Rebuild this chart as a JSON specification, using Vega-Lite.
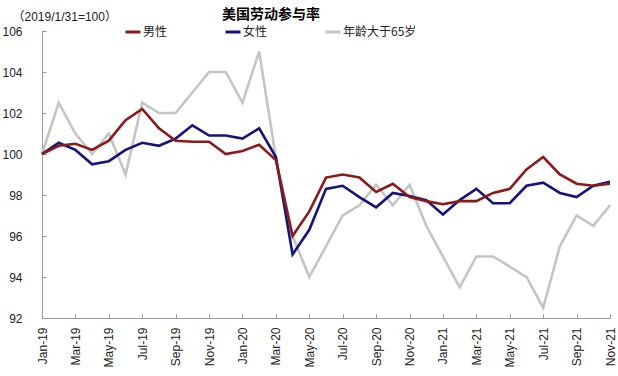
{
  "$schema": "https://vega.github.io/schema/vega-lite/v6.json",
  "width": 568,
  "height": 287,
  "autosize": "none",
  "padding": {"left": 42, "top": 31, "right": 8, "bottom": 58},
  "background": "white",
  "title": {
    "text": "美国劳动参与率",
    "anchor": "start",
    "dx": 220,
    "offset": -12,
    "font": "Noto Sans CJK SC",
    "fontSize": 14,
    "fontWeight": "bold",
    "color": "#000"
  },
  "config": {
    "view": {"stroke": null},
    "font": "Liberation Sans, Noto Sans CJK SC",
    "axis": {"labelFont": "Liberation Sans", "labelFontSize": 12, "labelColor": "#222", "grid": false, "domainColor": "#999", "tickColor": "#999"}
  },
  "data": {
    "values": [
      {"m": "Jan-19", "男性": 100.0, "女性": 100.0, "年龄大于65岁": 100.0},
      {"m": "Feb-19", "男性": 100.4, "女性": 100.55, "年龄大于65岁": 102.5},
      {"m": "Mar-19", "男性": 100.5, "女性": 100.2, "年龄大于65岁": 101.0},
      {"m": "Apr-19", "男性": 100.2, "女性": 99.5, "年龄大于65岁": 100.0},
      {"m": "May-19", "男性": 100.65, "女性": 99.65, "年龄大于65岁": 101.0},
      {"m": "Jun-19", "男性": 101.65, "女性": 100.2, "年龄大于65岁": 99.0},
      {"m": "Jul-19", "男性": 102.2, "女性": 100.55, "年龄大于65岁": 102.5},
      {"m": "Aug-19", "男性": 101.25, "女性": 100.4, "年龄大于65岁": 102.0},
      {"m": "Sep-19", "男性": 100.65, "女性": 100.75, "年龄大于65岁": 102.0},
      {"m": "Oct-19", "男性": 100.6, "女性": 101.4, "年龄大于65岁": 103.0},
      {"m": "Nov-19", "男性": 100.6, "女性": 100.9, "年龄大于65岁": 104.0},
      {"m": "Dec-19", "男性": 100.0, "女性": 100.9, "年龄大于65岁": 104.0},
      {"m": "Jan-20", "男性": 100.15, "女性": 100.75, "年龄大于65岁": 102.5},
      {"m": "Feb-20", "男性": 100.45, "女性": 101.25, "年龄大于65岁": 105.0},
      {"m": "Mar-20", "男性": 99.7, "女性": 99.85, "年龄大于65岁": 99.8},
      {"m": "Apr-20", "男性": 96.0, "女性": 95.1, "年龄大于65岁": 96.0},
      {"m": "May-20", "男性": 97.2, "女性": 96.3, "年龄大于65岁": 94.0},
      {"m": "Jun-20", "男性": 98.85, "女性": 98.3, "年龄大于65岁": 95.5},
      {"m": "Jul-20", "男性": 99.0, "女性": 98.45, "年龄大于65岁": 97.0},
      {"m": "Aug-20", "男性": 98.85, "女性": 97.9, "年龄大于65岁": 97.5},
      {"m": "Sep-20", "男性": 98.15, "女性": 97.4, "年龄大于65岁": 98.5},
      {"m": "Oct-20", "男性": 98.55, "女性": 98.1, "年龄大于65岁": 97.5},
      {"m": "Nov-20", "男性": 97.9, "女性": 97.95, "年龄大于65岁": 98.5},
      {"m": "Dec-20", "男性": 97.7, "女性": 97.75, "年龄大于65岁": 96.5},
      {"m": "Jan-21", "男性": 97.55, "女性": 97.05, "年龄大于65岁": 95.0},
      {"m": "Feb-21", "男性": 97.7, "女性": 97.75, "年龄大于65岁": 93.5},
      {"m": "Mar-21", "男性": 97.7, "女性": 98.3, "年龄大于65岁": 95.0},
      {"m": "Apr-21", "男性": 98.1, "女性": 97.6, "年龄大于65岁": 95.0},
      {"m": "May-21", "男性": 98.3, "女性": 97.6, "年龄大于65岁": 94.5},
      {"m": "Jun-21", "男性": 99.25, "女性": 98.45, "年龄大于65岁": 94.0},
      {"m": "Jul-21", "男性": 99.85, "女性": 98.6, "年龄大于65岁": 92.5},
      {"m": "Aug-21", "男性": 99.0, "女性": 98.1, "年龄大于65岁": 95.5},
      {"m": "Sep-21", "男性": 98.55, "女性": 97.9, "年龄大于65岁": 97.0},
      {"m": "Oct-21", "男性": 98.45, "女性": 98.45, "年龄大于65岁": 96.5},
      {"m": "Nov-21", "男性": 98.55, "女性": 98.65, "年龄大于65岁": 97.5}
    ]
  },
  "transform": [
    {"fold": ["年龄大于65岁", "女性", "男性"], "as": ["series", "value"]}
  ],
  "mark": {"type": "line", "strokeWidth": 2.6, "strokeJoin": "miter"},
  "encoding": {
    "x": {
      "field": "m",
      "type": "ordinal",
      "sort": null,
      "scale": {"type": "point", "padding": 0},
      "axis": {
        "title": null,
        "values": ["Jan-19","Mar-19","May-19","Jul-19","Sep-19","Nov-19","Jan-20","Mar-20","May-20","Jul-20","Sep-20","Nov-20","Jan-21","Mar-21","May-21","Jul-21","Sep-21","Nov-21"],
        "labelAngle": -90,
        "tickSize": -4,
        "labelPadding": 13
      }
    },
    "y": {
      "field": "value",
      "type": "quantitative",
      "scale": {"domain": [92, 106], "nice": false, "zero": false},
      "axis": {
        "values": [92, 94, 96, 98, 100, 102, 104, 106],
        "tickSize": -4,
        "labelPadding": 24,
        "title": "（2019/1/31=100）",
        "titleAngle": 0,
        "titleAlign": "left",
        "titleBaseline": "alphabetic",
        "titleX": -30,
        "titleY": -11,
        "titleFont": "Liberation Sans, Noto Sans CJK SC",
        "titleFontSize": 12,
        "titleFontWeight": "normal",
        "titleColor": "#222"
      }
    },
    "color": {
      "field": "series",
      "type": "nominal",
      "scale": {"domain": ["男性", "女性", "年龄大于65岁"], "range": ["#8B1A1A", "#14147D", "#C4C4C4"]},
      "legend": {
        "title": null,
        "orient": "none",
        "legendX": 82,
        "legendY": -8,
        "direction": "horizontal",
        "gridAlign": "all",
        "columnPadding": 2,
        "symbolType": "stroke",
        "symbolSize": 225,
        "symbolStrokeWidth": 3,
        "labelOffset": 1,
        "labelFont": "Noto Sans CJK SC",
        "labelFontSize": 12,
        "labelColor": "#222"
      }
    }
  }
}
